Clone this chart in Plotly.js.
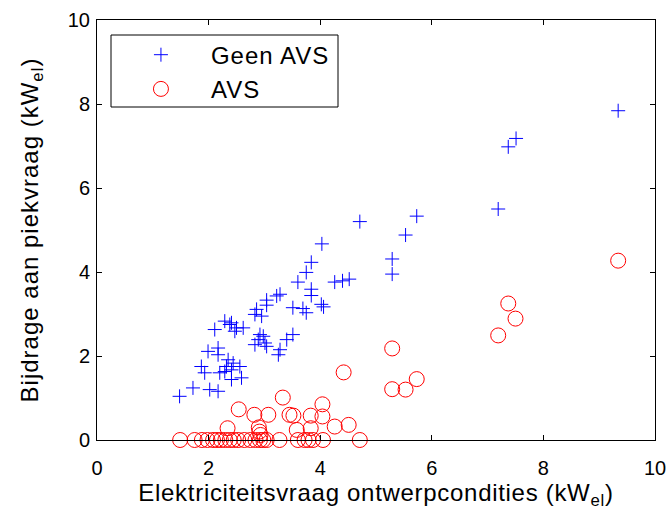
<!DOCTYPE html>
<html>
<head>
<meta charset="utf-8">
<script src="https://cdn.plot.ly/plotly-3.0.1.min.js"></script>
<style>
html,body{margin:0;padding:0;background:#fff;}
#chart{width:668px;height:510px;}
.xtitle{letter-spacing:0.7px;}
.ytitle{letter-spacing:1px;}
.legendtext{letter-spacing:1px;}
</style>
</head>
<body>
<div id="chart"></div>
<script>
// Series names
var seriesNames = ["Geen AVS", "AVS"];

// Geen AVS (blue +)
var geenX = [1.48,1.72,2.02,2.17,1.87,1.93,2.20,2.29,2.41,2.59,2.41,2.32,2.56,2.35,2.44,1.99,2.17,2.17,2.11,2.29,2.41,2.38,2.50,2.47,2.62,2.83,2.89,2.92,2.98,3.01,3.04,3.28,3.25,3.40,3.51,2.86,2.83,2.95,3.04,3.04,3.22,3.28,3.51,3.69,3.75,4.02,4.06,3.84,3.84,3.60,3.75,3.84,4.03,4.26,4.40,4.52,4.71,5.29,5.29,5.53,5.73,7.19,7.37,7.51,9.34];
var geenY = [1.04,1.24,1.20,1.16,1.75,1.60,1.60,1.63,1.44,1.48,1.67,1.75,1.75,1.91,1.83,2.11,2.19,2.03,2.63,2.83,2.79,2.75,2.67,2.59,2.67,2.27,2.39,2.51,2.47,2.31,2.23,2.15,2.03,2.39,2.51,3.11,2.99,2.95,3.33,3.21,3.43,3.47,3.15,3.13,3.03,3.23,3.17,3.59,3.44,3.76,3.99,4.23,4.67,3.76,3.79,3.83,5.20,4.31,3.95,4.88,5.33,5.50,6.98,7.18,7.84];

// AVS (red o)
var avsX = [1.49,1.75,1.88,1.98,2.08,2.15,2.22,2.30,2.38,2.45,2.53,2.64,2.75,2.84,2.92,2.98,3.04,3.27,3.60,3.72,3.79,3.87,4.05,4.71,2.54,2.82,3.07,3.33,3.45,3.52,3.83,4.04,4.04,4.26,4.51,3.58,3.83,2.34,2.90,2.91,2.93,4.42,5.29,5.29,5.53,5.73,7.19,7.37,7.50,9.34];
var avsY = [0,0,0,0,0,0,0,0,0,0,0,0,0,0,0,0,0,0,0,0,0,0,0,0,0.73,0.60,0.60,1.01,0.60,0.58,0.58,0.85,0.56,0.32,0.36,0.24,0.28,0.28,0.30,0.20,0.12,1.61,2.18,1.21,1.20,1.45,2.49,3.25,2.89,4.27];

// Axis ticks
var tickVals = [0,2,4,6,8,10];
var tickText = ["0","2","4","6","8","10"];

var traces = [
  {x: geenX, y: geenY, name: seriesNames[0], type: "scatter", mode: "markers", cliponaxis: false,
   marker: {symbol: "cross-thin-open", size: 10, color: "#0000ff", line: {color: "#0000ff", width: 1}}},
  {x: avsX, y: avsY, name: seriesNames[1], type: "scatter", mode: "markers", cliponaxis: false,
   marker: {symbol: "circle-open", size: 15, color: "#ff0000", line: {color: "#ff0000", width: 1}}}
];

var fontFam = "Liberation Sans, Arial, sans-serif";
var axisCommon = {
  range: [0, 10], tickvals: tickVals, ticktext: tickText,
  showgrid: false, zeroline: false, showline: true, linecolor: "#000", linewidth: 1,
  mirror: "ticks", ticks: "inside", ticklen: 5, tickcolor: "#000",
  tickfont: {family: fontFam, size: 20, color: "#000"}
};

var layout = {
  width: 668, height: 510,
  margin: {l: 97, r: 13, t: 20, b: 70},
  paper_bgcolor: "#fff", plot_bgcolor: "#fff",
  showlegend: true,
  font: {family: fontFam, color: "#000"},
  xaxis: Object.assign({}, axisCommon, {
    ticklabelstandoff: 10,
    title: {text: "Elektriciteitsvraag ontwerpcondities (kW<sub>el</sub>)", font: {family: fontFam, size: 24, color: "#000"}, standoff: 6}
  }),
  yaxis: Object.assign({}, axisCommon, {
    ticklabelstandoff: 2,
    title: {text: "Bijdrage aan piekvraag (kW<sub>el</sub>)", font: {family: fontFam, size: 24, color: "#000"}, standoff: 22}
  }),
  shapes: [
    {type: "rect", xref: "paper", yref: "paper",
     x0: (111 - 97) / 558, x1: (338 - 97) / 558, y0: (440 - 107) / 420, y1: (440 - 35) / 420,
     line: {color: "#000", width: 1}, fillcolor: "#fff", layer: "above"}
  ],
  legend: {
    x: 0.025, y: 0.97, xanchor: "left", yanchor: "top",
    bgcolor: "rgba(0,0,0,0)", borderwidth: 0,
    itemwidth: 90,
    font: {family: fontFam, size: 24, color: "#000"}
  }
};

Plotly.newPlot("chart", traces, layout, {displayModeBar: false, staticPlot: true});
</script>
</body>
</html>
